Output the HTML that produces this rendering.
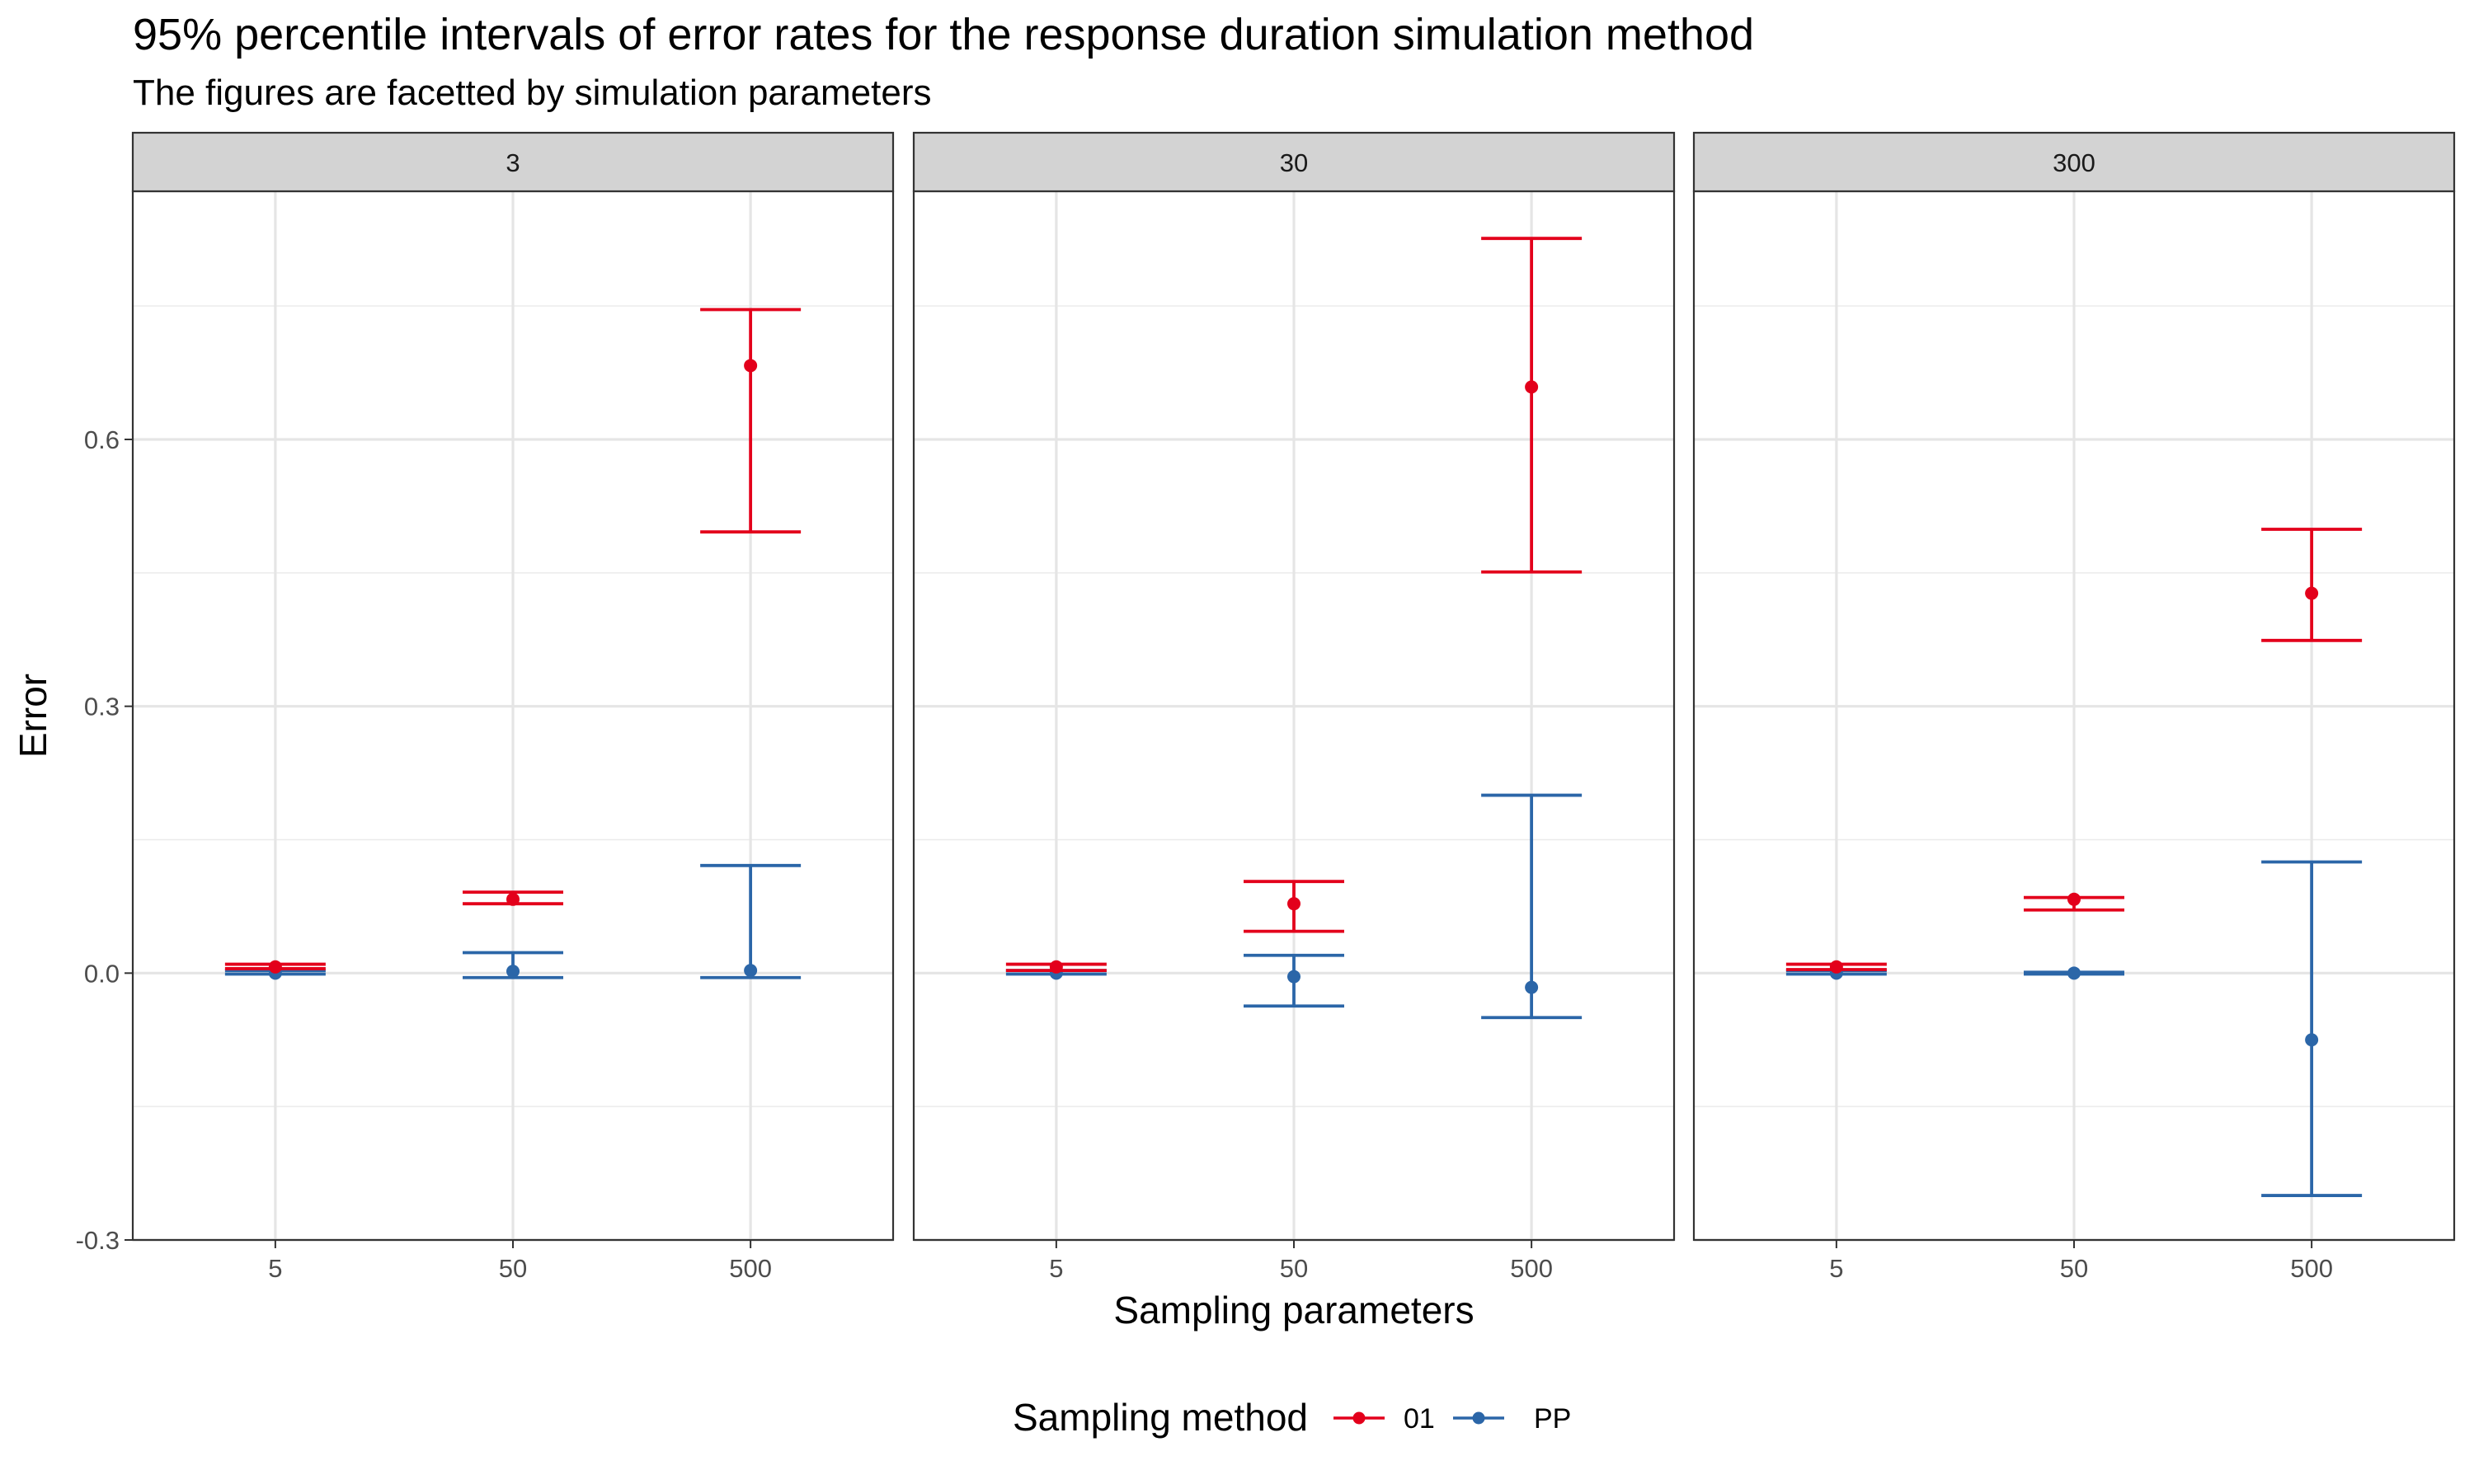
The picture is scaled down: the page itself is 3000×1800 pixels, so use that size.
<!DOCTYPE html>
<html><head><meta charset="utf-8"><style>
html,body{margin:0;padding:0;background:#fff;}
svg{display:block;font-family:"Liberation Sans",Arial,sans-serif;}
</style></head><body>
<svg id="chart" width="3000" height="1800" viewBox="0 0 3000 1800">
<text x="161" y="60" font-size="54" fill="#000">95% percentile intervals of error rates for the response duration simulation method</text>
<text x="161" y="127" font-size="44" fill="#000">The figures are facetted by simulation parameters</text>
<text transform="translate(56,868) rotate(-90)" text-anchor="middle" font-size="46" fill="#000">Error</text>
<text x="1569" y="1605" text-anchor="middle" font-size="46" fill="#000">Sampling parameters</text>
<g id="panels"></g>
<g>
<text x="1228" y="1735" font-size="46" fill="#000">Sampling method</text>
<g>
<line x1="1617" x2="1679" y1="1720" y2="1720" stroke="#e3001b" stroke-width="3.5"/><circle cx="1648" cy="1720" r="7.5" fill="#e3001b"/>
<text x="1702" y="1732" font-size="34" fill="#000">01</text></g>
<g>
<line x1="1762" x2="1824" y1="1720" y2="1720" stroke="#2b66a8" stroke-width="3.5"/><circle cx="1793" cy="1720" r="7.5" fill="#2b66a8"/>
<text x="1860" y="1732" font-size="34" fill="#000">PP</text></g>
</g>
</svg>
<script>
const facets = ["3","30","300"];
const categories = ["5","50","500"];
const yTicks = [-0.3,0.0,0.3,0.6];
const yTickLabels = ["-0.3","0.0","0.3","0.6"];
const redMean = [[0.007,0.083,0.683],[0.007,0.078,0.659],[0.007,0.083,0.427]];
const redLo   = [[0.005,0.078,0.496],[0.003,0.047,0.451],[0.004,0.071,0.374]];
const redHi   = [[0.010,0.091,0.746],[0.010,0.103,0.826],[0.010,0.085,0.499]];
const blueMean= [[0.000,0.002,0.003],[0.000,-0.004,-0.016],[0.000,0.000,-0.075]];
const blueLo  = [[-0.001,-0.005,-0.005],[-0.001,-0.037,-0.050],[-0.001,-0.001,-0.250]];
const blueHi  = [[0.003,0.023,0.121],[0.003,0.020,0.200],[0.003,0.001,0.125]];

const NS="http://www.w3.org/2000/svg";
const panelX=[161,1108,2054], panelW=922, stripTop=161, plotTop=232, plotBot=1504;
const yMin=-0.3, yMax=0.879;
function y(v){return plotBot-(v-yMin)/(yMax-yMin)*(plotBot-plotTop);}
function x(p,i){return panelX[p]+(i+1-0.4)/3.2*panelW;}
function mk(tag,attrs,parent){const e=document.createElementNS(NS,tag);for(const k in attrs)e.setAttribute(k,attrs[k]);parent.appendChild(e);return e;}
const root=document.getElementById('panels');
facets.forEach((f,p)=>{
  const g=mk('g',{},root);
  
  
  const bg=mk('rect',{x:panelX[p],y:plotTop,width:panelW,height:plotBot-plotTop,fill:'#fff'},g);
  
  
  const minors=[];
  for(let k=0;k<yTicks.length-1;k++)minors.push((yTicks[k]+yTicks[k+1])/2);
  minors.push(yTicks[yTicks.length-1]+0.15);
  minors.forEach(m=>{ if(m<yMax){const gl=mk('line',{x1:panelX[p],x2:panelX[p]+panelW,y1:y(m),y2:y(m),stroke:'#ebebeb','stroke-width':1.5},g);
    
    }});
  yTicks.forEach(t=>{const gl=mk('line',{x1:panelX[p],x2:panelX[p]+panelW,y1:y(t),y2:y(t),stroke:'#e5e5e5','stroke-width':3.2},g);
    
    });
  categories.forEach((c,i)=>{const gl=mk('line',{x1:x(p,i),x2:x(p,i),y1:plotTop,y2:plotBot,stroke:'#e5e5e5','stroke-width':3.2},g);
    
    
    const tk=mk('line',{x1:x(p,i),x2:x(p,i),y1:plotBot,y2:plotBot+10,stroke:'#333','stroke-width':2},g);
    
    
    const tl=mk('text',{x:x(p,i),y:plotBot+45,'text-anchor':'middle','font-size':31,fill:'#4d4d4d'},g);
    tl.textContent=c;
    
    });
  const series=[[blueMean,blueLo,blueHi,'#2b66a8','pp'],[redMean,redLo,redHi,'#e3001b','01']];
  series.forEach(([mn,lo,hi,col,nm])=>{
    categories.forEach((c,i)=>{
      const eg=mk('g',{stroke:col,'stroke-width':3.8,fill:'none'},g);
      
      
      const cx=x(p,i);
      mk('line',{x1:cx,x2:cx,y1:y(lo[p][i]),y2:y(hi[p][i])},eg);
      mk('line',{x1:cx-61,x2:cx+61,y1:y(lo[p][i]),y2:y(lo[p][i])},eg);
      mk('line',{x1:cx-61,x2:cx+61,y1:y(hi[p][i]),y2:y(hi[p][i])},eg);
      const pt=mk('circle',{cx:cx,cy:y(mn[p][i]),r:8,fill:col,stroke:'none'},g);
      
      
    });
  });
  const br=mk('rect',{x:panelX[p],y:plotTop,width:panelW,height:plotBot-plotTop,fill:'none',stroke:'#333','stroke-width':2.2},g);
  
  
  const st=mk('rect',{x:panelX[p],y:stripTop,width:panelW,height:plotTop-stripTop,fill:'#d3d3d3',stroke:'#333','stroke-width':2.2},g);
  
  
  const stt=mk('text',{x:panelX[p]+panelW/2,y:stripTop+47,'text-anchor':'middle','font-size':31,fill:'#1a1a1a'},g);
  stt.textContent=f;
  
  
  if(p===0){yTicks.forEach((t,k)=>{
    const tk=mk('line',{x1:panelX[0]-10,x2:panelX[0],y1:y(t),y2:y(t),stroke:'#333','stroke-width':2},g);
    
    
    const tl=mk('text',{x:panelX[0]-16,y:y(t)+11,'text-anchor':'end','font-size':31,fill:'#4d4d4d'},g);
    tl.textContent=yTickLabels[k];
    
    });}
});
</script>
</body></html>
